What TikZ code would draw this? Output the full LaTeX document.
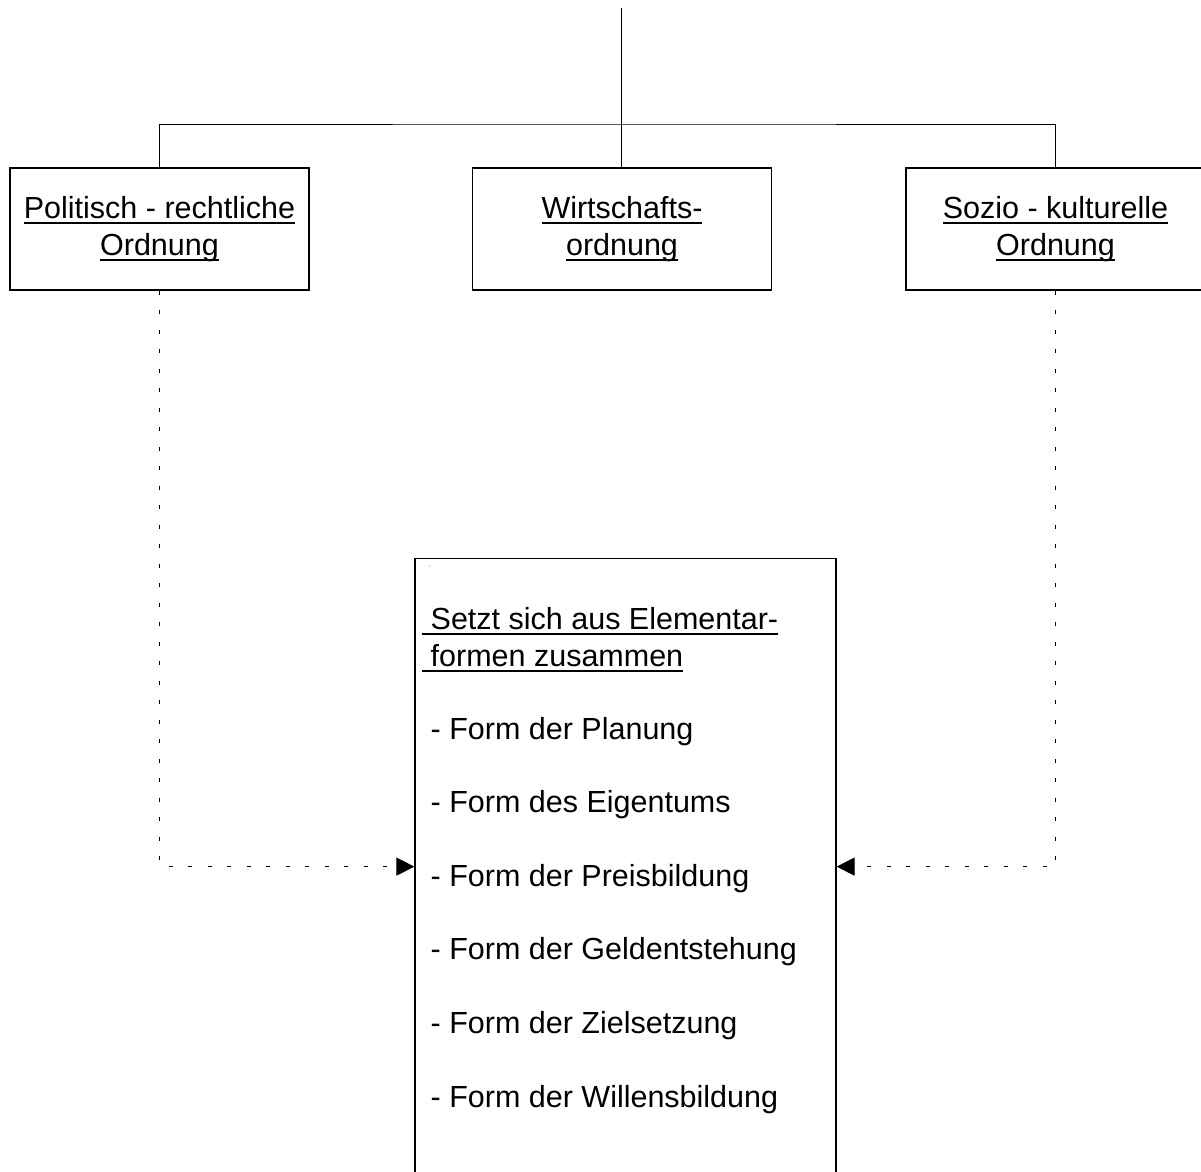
\documentclass[tikz,border=0pt]{standalone}
\usepackage{fontspec}
\setmainfont{Liberation Sans}
\usetikzlibrary{arrows.meta}

\newlength\ulwd
\newcommand\ulin[1]{\settowidth{\ulwd}{#1}\rlap{\rule[-5.8pt]{\ulwd}{1.8pt}}#1}

\tikzset{
  ordbox/.style={draw, line width=1.2pt, minimum width=299pt, minimum height=122pt, align=center, inner sep=0pt},
  dotline/.style={line width=1pt, dash pattern=on 4pt off 15.5pt, -{Triangle[length=18pt,width=18pt]}},
  txt/.style={anchor=base west, inner sep=0pt}
}

\begin{document}
\begin{tikzpicture}[x=1pt, y=-1pt, font=\fontsize{30.5}{36.8}\selectfont]
    \useasboundingbox (0,0) rectangle (1201,1171);

    % Ordnungen oben
    \node[ordbox] (pol) at (159.5,229) {\ulin{Politisch - rechtliche}\\\ulin{Ordnung}};
    \node[ordbox] (wirt) at (622,229) {\ulin{Wirtschafts-}\\\ulin{ordnung}};
    \node[ordbox] (soz) at (1055.5,229) {\ulin{Sozio - kulturelle}\\\ulin{Ordnung}};

    % Verbindungen oben
    \coordinate (top) at (621,8);
    \coordinate (split) at (621,124);
    \draw[line width=1pt] (top) -- (top |- wirt.north);
    \draw[line width=1pt] (pol.north) |- (split) -| (soz.north);

    % Kasten Elementarformen
    \node[draw, line width=1.2pt, anchor=north, minimum width=421pt, minimum height=616pt, inner sep=0pt] (elem) at (625.5,558) {};
    \node[inner sep=0pt] (mark) at (430,568) {\fontsize{5}{5}\selectfont '};
    \node[txt] (head1) at (422,629) {\ulin{\ Setzt sich aus Elementar-}};
    \node[txt] (head2) at (422,666) {\ulin{\ formen zusammen}};
    \foreach \f [count=\i] in {der Planung, des Eigentums, der Preisbildung, der Geldentstehung, der Zielsetzung, der Willensbildung}
      \node[txt] (form\i) at (422,{739+73.6*(\i-1)}) {\ - Form \f};

    % gestrichelte Pfeile
    \draw[dotline] (pol.south) |- (elem.west);
    \draw[dotline] (soz.south) |- (elem.east);
\end{tikzpicture}
\end{document}
